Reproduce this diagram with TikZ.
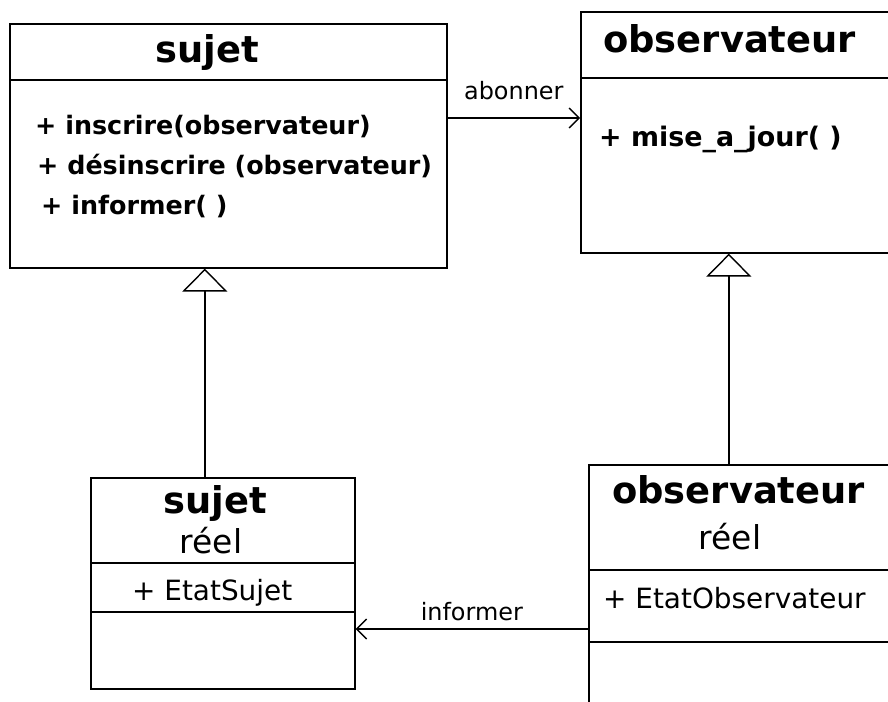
\documentclass[tikz,border=0pt]{standalone}
\usepackage{fontspec}
\setmainfont{DejaVu Sans}
\usepackage{tikz}
\usetikzlibrary{arrows.meta}

\begin{document}
\begin{tikzpicture}[
    x=1bp, y=-1bp,
    classbox/.style={draw, line width=1.6bp, inner sep=0pt, anchor=north west},
    classname/.style={inner sep=0pt, anchor=base, font=\fontsize{37}{40}\selectfont\bfseries},
    stereo/.style={inner sep=0pt, anchor=base, font=\fontsize{33}{36}\selectfont},
    member/.style={inner sep=0pt, anchor=base west, font=\fontsize{25.5}{28}\selectfont\bfseries},
    attrib/.style={inner sep=0pt, anchor=base west, font=\fontsize{28}{30}\selectfont},
    assoc/.style={inner sep=0pt, font=\fontsize{24}{26}\selectfont},
    divider/.style={line width=1.6bp},
    arrow/.style={-{Straight Barb[length=10bp, width=20bp, line width=1.4bp]}, line width=1.6bp},
    inherit/.style={-{Triangle[open, length=23bp, width=45bp, fill=white, line width=1.4bp]}, line width=1.6bp}
  ]
    \useasboundingbox (0,0) rectangle (888,702);
    \clip (0,0) rectangle (888,702);

    \node[classbox, minimum width=437bp, minimum height=244bp] (sujet) at (9,23) {};
    \node[classbox, minimum width=330bp, minimum height=241bp] (obs) at (580,11) {};
    \node[classbox, minimum width=264bp, minimum height=211bp] (sujetreel) at (90,477) {};
    \node[classbox, minimum width=320bp, minimum height=260bp] (obsreel) at (588,464) {};

    \draw[divider] (sujet.west |- 0,80) -- (sujet.east |- 0,80);
    \draw[divider] (obs.west |- 0,78) -- (obs.east |- 0,78);
    \draw[divider] (sujetreel.west |- 0,563) -- (sujetreel.east |- 0,563);
    \draw[divider] (sujetreel.west |- 0,612) -- (sujetreel.east |- 0,612);
    \draw[divider] (obsreel.west |- 0,570) -- (obsreel.east |- 0,570);
    \draw[divider] (obsreel.west |- 0,642) -- (obsreel.east |- 0,642);

    \node[classname] (sujettitle) at (207,63) {sujet};
    \node[member] (inscrire) at (35,135) {+ inscrire(observateur)};
    \node[member] (desinscrire) at (37,175) {+ désinscrire (observateur)};
    \node[member] (informer) at (41,214) {+ informer( )};

    \node[classname, anchor=base west] (obstitle) at (603,53) {observateur};
    \node[member, font=\fontsize{27}{30}\selectfont\bfseries] (miseajour) at (599,147) {+ mise\_a\_jour( )};

    \node[classname] (sujetreeltitle) at (215,513) {sujet};
    \node[stereo] (sujetreelst) at (211,553) {réel};
    \node[attrib] (etatsujet) at (132,600) {+ EtatSujet};

    \node[classname, anchor=base west] (obsreeltitle) at (612,503) {observateur};
    \node[stereo] (obsreelst) at (730,549) {réel};
    \node[attrib] (etatobs) at (603,608) {+ EtatObservateur};

    \draw[arrow] (sujet.east |- 0,118) -- (obs.west |- 0,118)
      node[assoc, midway, above=17bp] (abonner) {abonner};
    \draw[arrow] (obsreel.west |- 0,629) -- (sujetreel.east |- 0,629)
      node[assoc, midway, above=7bp] (informerlbl) {informer};

    \draw[inherit] ([xshift=-18bp]sujetreel.north) -- ([xshift=-18bp]sujetreel.north |- sujet.south);
    \draw[inherit] ([xshift=-20bp]obsreel.north) -- ([xshift=-20bp]obsreel.north |- obs.south);
\end{tikzpicture}
\end{document}
